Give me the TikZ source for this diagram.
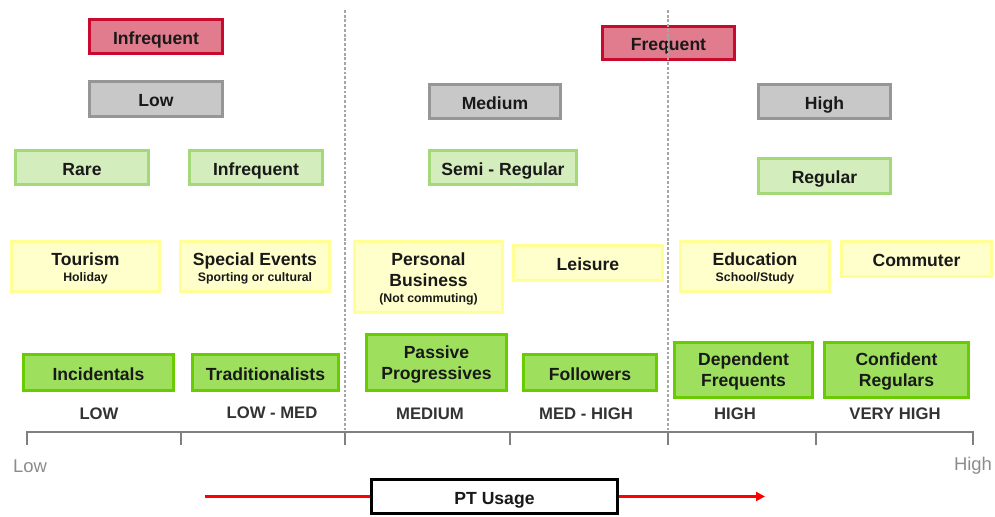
\documentclass[tikz,border=0pt]{standalone}
\usepackage{fontspec}
\setmainfont{Liberation Sans}
\usetikzlibrary{arrows.meta}
\definecolor{redfill}{RGB}{224,124,142}
\definecolor{redline}{RGB}{200,10,45}
\definecolor{greyfill}{RGB}{200,200,200}
\definecolor{greyline}{RGB}{150,150,150}
\definecolor{lgfill}{RGB}{212,237,188}
\definecolor{lgline}{RGB}{164,216,120}
\definecolor{yelfill}{RGB}{255,255,204}
\definecolor{yelline}{RGB}{255,255,150}
\definecolor{grfill}{RGB}{158,224,94}
\definecolor{grline}{RGB}{104,204,0}
\tikzset{
  seg/.style={rectangle,draw,line width=1.6pt,align=center,inner sep=1pt,
    font=\fontsize{10}{12}\selectfont\bfseries,text=black!90},
  oneline/.style={text height=9.5pt,text depth=0.5pt},
  freqbox/.style={seg,draw=redline,fill=redfill},
  usebox/.style={seg,draw=greyline,fill=greyfill},
  regbox/.style={seg,draw=lgline,fill=lgfill},
  tripbox/.style={seg,draw=yelline,fill=yelfill},
  typebox/.style={seg,draw=grline,fill=grfill},
  sz/.style 2 args={minimum width=#1*0.2mm,minimum height=#2*0.2mm},
  lvl/.style={font=\fontsize{9.5}{11}\selectfont\bfseries,text=black!80},
  ends/.style={font=\fontsize{10.5}{12}\selectfont,text=black!45},
  divider/.style={draw=black!35,line width=1.6pt,dash pattern=on 1.6pt off 1.1pt}
}
\newcommand{\subtxt}[1]{\\[-3pt]{\fontsize{7}{8}\selectfont #1}}
\newcommand{\topstrut}{\rule{0pt}{9pt}}
\begin{document}
\begin{tikzpicture}[x=0.2mm,y=-0.2mm]
\useasboundingbox (0,0) rectangle (995,517);

% frequency
\node (fqlow) [freqbox,oneline,sz={133}{34}] at (156,36.5) {Infrequent};
\node (fqhigh) [freqbox,oneline,sz={132}{33}] at (668.5,43) {Frequent};

% usage level
\node (ulow) [usebox,oneline,sz={133}{35}] at (156,99) {Low};
\node (umed) [usebox,oneline,sz={131}{34}] at (495,101.5) {Medium};
\node (uhigh) [usebox,oneline,sz={132}{34}] at (824.5,101.5) {High};

% regularity
\node (rrare) [regbox,oneline,sz={133}{34}] at (82,167.5) {Rare};
\node (rinfr) [regbox,oneline,sz={133}{34}] at (256,167.5) {Infrequent};
\node (rsemi) [regbox,oneline,sz={147}{34}] at (503,167.5) {Semi - Regular};
\node (rreg) [regbox,oneline,sz={132}{35}] at (824.5,176) {Regular};

% trip purpose
\node (ttour) [tripbox,sz={148}{50}] at (85.5,266.5) {\topstrut Tourism\subtxt{Holiday}};
\node (tspec) [tripbox,sz={149}{50}] at (255,266.5) {\topstrut Special Events\subtxt{Sporting or cultural}};
\node (tpers) [tripbox,sz={148}{71}] at (428.5,277) {\topstrut Personal\\Business\subtxt{(Not commuting)}};
\node (tleis) [tripbox,oneline,sz={149}{35}] at (588,263) {Leisure};
\node (tedu) [tripbox,sz={149}{50}] at (755,266.5) {\topstrut Education\subtxt{School/Study}};
\node (tcomm) [tripbox,oneline,sz={150}{35}] at (916.5,259) {Commuter};

% user types
\node (pinc) [typebox,oneline,sz={150}{36}] at (98.5,372.5) {Incidentals};
\node (ptrad) [typebox,oneline,sz={146}{36}] at (265.5,372.5) {Traditionalists};
\node (ppass) [typebox,sz={140}{56}] at (436.5,362.5) {\topstrut Passive\\Progressives};
\node (pfoll) [typebox,oneline,sz={133}{36}] at (590,372.5) {Followers};
\node (pdep) [typebox,sz={138}{55}] at (743.5,370) {\topstrut Dependent\\Frequents};
\node (pconf) [typebox,sz={144}{55}] at (896.5,370) {\topstrut Confident\\Regulars};

% level labels
\node (llow) [lvl] at (99,414) {LOW};
\node (llm) [lvl] at (272,413) {LOW - MED};
\node (lmed) [lvl] at (430,414) {MEDIUM};
\node (lmh) [lvl] at (586,414) {MED - HIGH};
\node (lhigh) [lvl] at (735,414) {HIGH};
\node (lvh) [lvl] at (895,414) {VERY HIGH};

% scale
\draw[draw=black!50,line width=1.6pt] (27,432) -- (973,432);
\foreach \t in {27,181,345,510,668,816,973}
  \draw[draw=black!50,line width=1.6pt] (\t,431) -- (\t,445);
\node (slow) [ends] at (30,466) {Low};
\node (shigh) [ends] at (973,466) {High};

% dividers
\draw[divider] (345,10) -- (345,431);
\draw[divider] (668,10) -- (668,431);

% usage arrow
\coordinate (arrs) at (205,496.5);
\coordinate (arre) at (765,496.5);
\node (ptu) [seg,oneline,draw=black,fill=white,sz={246}{34}] at (494.5,496.5) {PT Usage};
\draw[red,line width=1.2pt] (arrs) -- (ptu.west);
\draw[red,line width=1.2pt,-{Triangle[length=5pt,width=5pt]}] (ptu.east) -- (arre);
\end{tikzpicture}
\end{document}
